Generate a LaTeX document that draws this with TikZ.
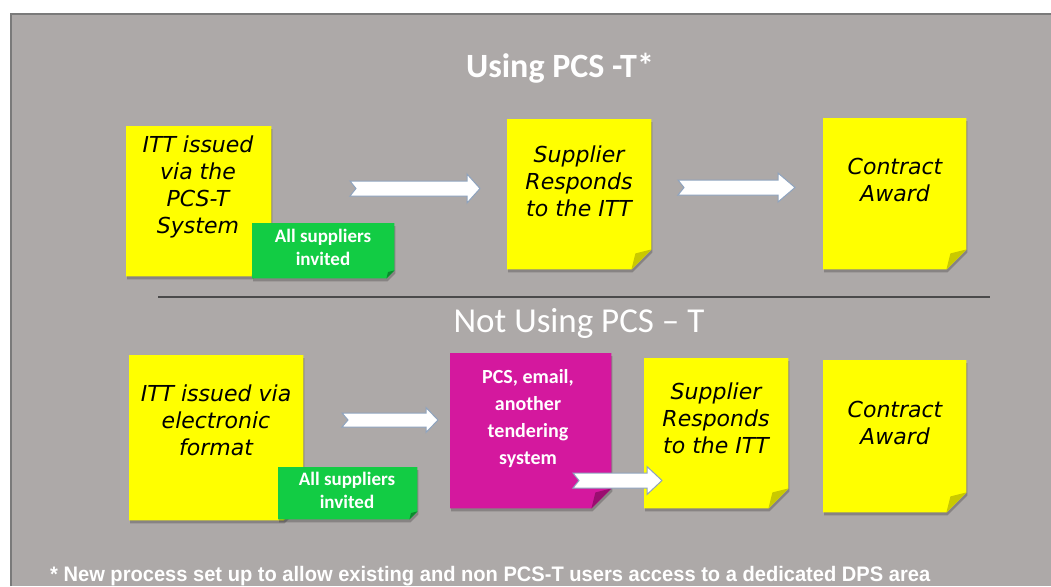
\documentclass[tikz,border=0pt]{standalone}
\usepackage{fontspec}
\usepackage{graphicx}
\setmainfont{Carlito}
\newfontfamily\handfont{DejaVu Sans}
\newfontfamily\footfont{Liberation Sans}
\definecolor{panelc}{HTML}{ADA9A8}
\definecolor{panelborder}{HTML}{7A7A7A}
\definecolor{notey}{HTML}{FFFF00}
\definecolor{foldy}{HTML}{C9C900}
\definecolor{greenc}{HTML}{12CC44}
\definecolor{foldg}{HTML}{0B8A2E}
\definecolor{magc}{HTML}{D4189E}
\definecolor{foldm}{HTML}{9A0E70}
\definecolor{arrowedge}{HTML}{8EA3BE}
\definecolor{sepc}{HTML}{4A4A4A}
\tikzset{
  paperbox/.style={rectangle, inner sep=0pt, anchor=north west},
  handtext/.style={font=\handfont\itshape\fontsize{22}{27}\selectfont, text=black, align=center, inner sep=0pt},
  greentext/.style={font=\bfseries\fontsize{19}{23}\selectfont, text=white, align=center, inner sep=0pt},
  magtext/.style={font=\bfseries\fontsize{20}{27}\selectfont, text=white, align=center, inner sep=0pt},
  titletext/.style={text=white, inner sep=0pt},
  blockarrow/.style={fill=white, draw=arrowedge, line width=1pt, line join=miter},
}
% #1 node name, #2 fill, #3 fold colour, #4 fold size
\newcommand\paperfill[4]{%
  \fill[black, opacity=0.22] ([shift={(1pt,-3pt)}]#1.north west) -- ([shift={(1pt,-3pt)}]#1.north east)
     -- ([shift={(1pt,-3pt+#4)}]#1.south east) -- ([shift={(1pt-#4,-3pt)}]#1.south east)
     -- ([shift={(1pt,-3pt)}]#1.south west) -- cycle;
  \fill[#2] (#1.north west) -- (#1.north east) -- ([yshift=#4]#1.south east)
     -- ([xshift=-#4]#1.south east) -- (#1.south west) -- cycle;
  \fill[#3] ([yshift=#4]#1.south east) -- ([xshift=-#4]#1.south east)
     -- ([shift={(-0.8*#4,0.8*#4)}]#1.south east) -- cycle;
}
% #1 tail x, #2 centre y, #3 length, #4 shaft half, #5 head half, #6 head length, #7 notch
\newcommand\blockarr[7]{%
  \begin{scope}[shift={(#1,#2)}]
  \draw[blockarrow] (0,-#4) -- (#3-#6,-#4) -- (#3-#6,-#5) -- (#3,0) -- (#3-#6,#5) -- (#3-#6,#4) -- (0,#4) -- (#7,0) -- cycle;
  \end{scope}
}
\begin{document}
\begin{tikzpicture}[x=1pt,y=-1pt]
\useasboundingbox (0,0) rectangle (1051,586);
\fill[white] (0,0) rectangle (1051,586);
\fill[panelc] (10,13) rectangle (1051,586);
\draw[panelborder, line width=2pt] (11,586) -- (11,14) -- (1051,14);

% titles
\node[titletext, font=\bfseries\fontsize{34}{40}\selectfont] (title1) at (560,68) {Using PCS -T*};
\node[titletext, font=\fontsize{35}{40}\selectfont] (title2) at (579,323) {Not Using PCS – T};

% separator
\coordinate (sepL) at (158,297);
\coordinate (sepR) at (990,297);
\draw[sepc, line width=1.2pt] (sepL) -- (sepR);

% ---------- top row ----------
\node[paperbox, minimum width=145pt, minimum height=150pt] (n1) at (126,126) {};
\paperfill{n1}{notey}{foldy}{20pt}
\node[handtext] (n1t) at (198,187) {ITT issued\\via the\\PCS-T\\System};

\node[paperbox, minimum width=142pt, minimum height=55pt] (g1) at (252,223) {};
\paperfill{g1}{greenc}{foldg}{8pt}
\node[greentext] (g1t) at (323,247) {All suppliers\\invited};

\node[paperbox, minimum width=144pt, minimum height=150pt] (n2) at (507,119) {};
\paperfill{n2}{notey}{foldy}{20pt}
\node[handtext] (n2t) at (579,181) {Supplier\\Responds\\to the ITT};

\node[paperbox, minimum width=143pt, minimum height=151pt] (n3) at (823,118) {};
\paperfill{n3}{notey}{foldy}{20pt}
\node[handtext] (n3t) at (895,180) {Contract\\Award};

\blockarr{350}{188.5}{130}{7.5}{14.5}{13}{6}
\blockarr{678}{187.5}{117}{7.5}{14.5}{17}{6}

% ---------- bottom row ----------
\node[paperbox, minimum width=174pt, minimum height=165pt] (n4) at (129,355) {};
\paperfill{n4}{notey}{foldy}{20pt}
\node[handtext] (n4t) at (216,420) {ITT issued via\\electronic\\format};

\node[paperbox, minimum width=139pt, minimum height=52pt] (g2) at (278,467) {};
\paperfill{g2}{greenc}{foldg}{8pt}
\node[greentext] (g2t) at (347,490) {All suppliers\\invited};

\node[paperbox, minimum width=161pt, minimum height=155pt] (m1) at (450,353) {};
\paperfill{m1}{magc}{foldm}{20pt}
\node[magtext] (m1t) at (528,419) {PCS, email,\\another\\tendering\\system};

\node[paperbox, minimum width=144pt, minimum height=150pt] (n5) at (644,358) {};
\paperfill{n5}{notey}{foldy}{20pt}
\node[handtext] (n5t) at (716,418) {Supplier\\Responds\\to the ITT};

\node[paperbox, minimum width=143pt, minimum height=152pt] (n6) at (823,360) {};
\paperfill{n6}{notey}{foldy}{20pt}
\node[handtext] (n6t) at (895,423) {Contract\\Award};

\blockarr{342}{420}{96}{7}{12.5}{12}{6}
\blockarr{573}{480.5}{89}{7.5}{14}{15}{6}

% footnote
\node[anchor=west, text=white, inner sep=0pt, font=\footfont\bfseries\fontsize{21}{24}\selectfont] (foot) at (50,576)
  {\resizebox{880pt}{\height}{* New process set up to allow existing and non PCS-T users access to a dedicated DPS area}};
\end{tikzpicture}
\end{document}
